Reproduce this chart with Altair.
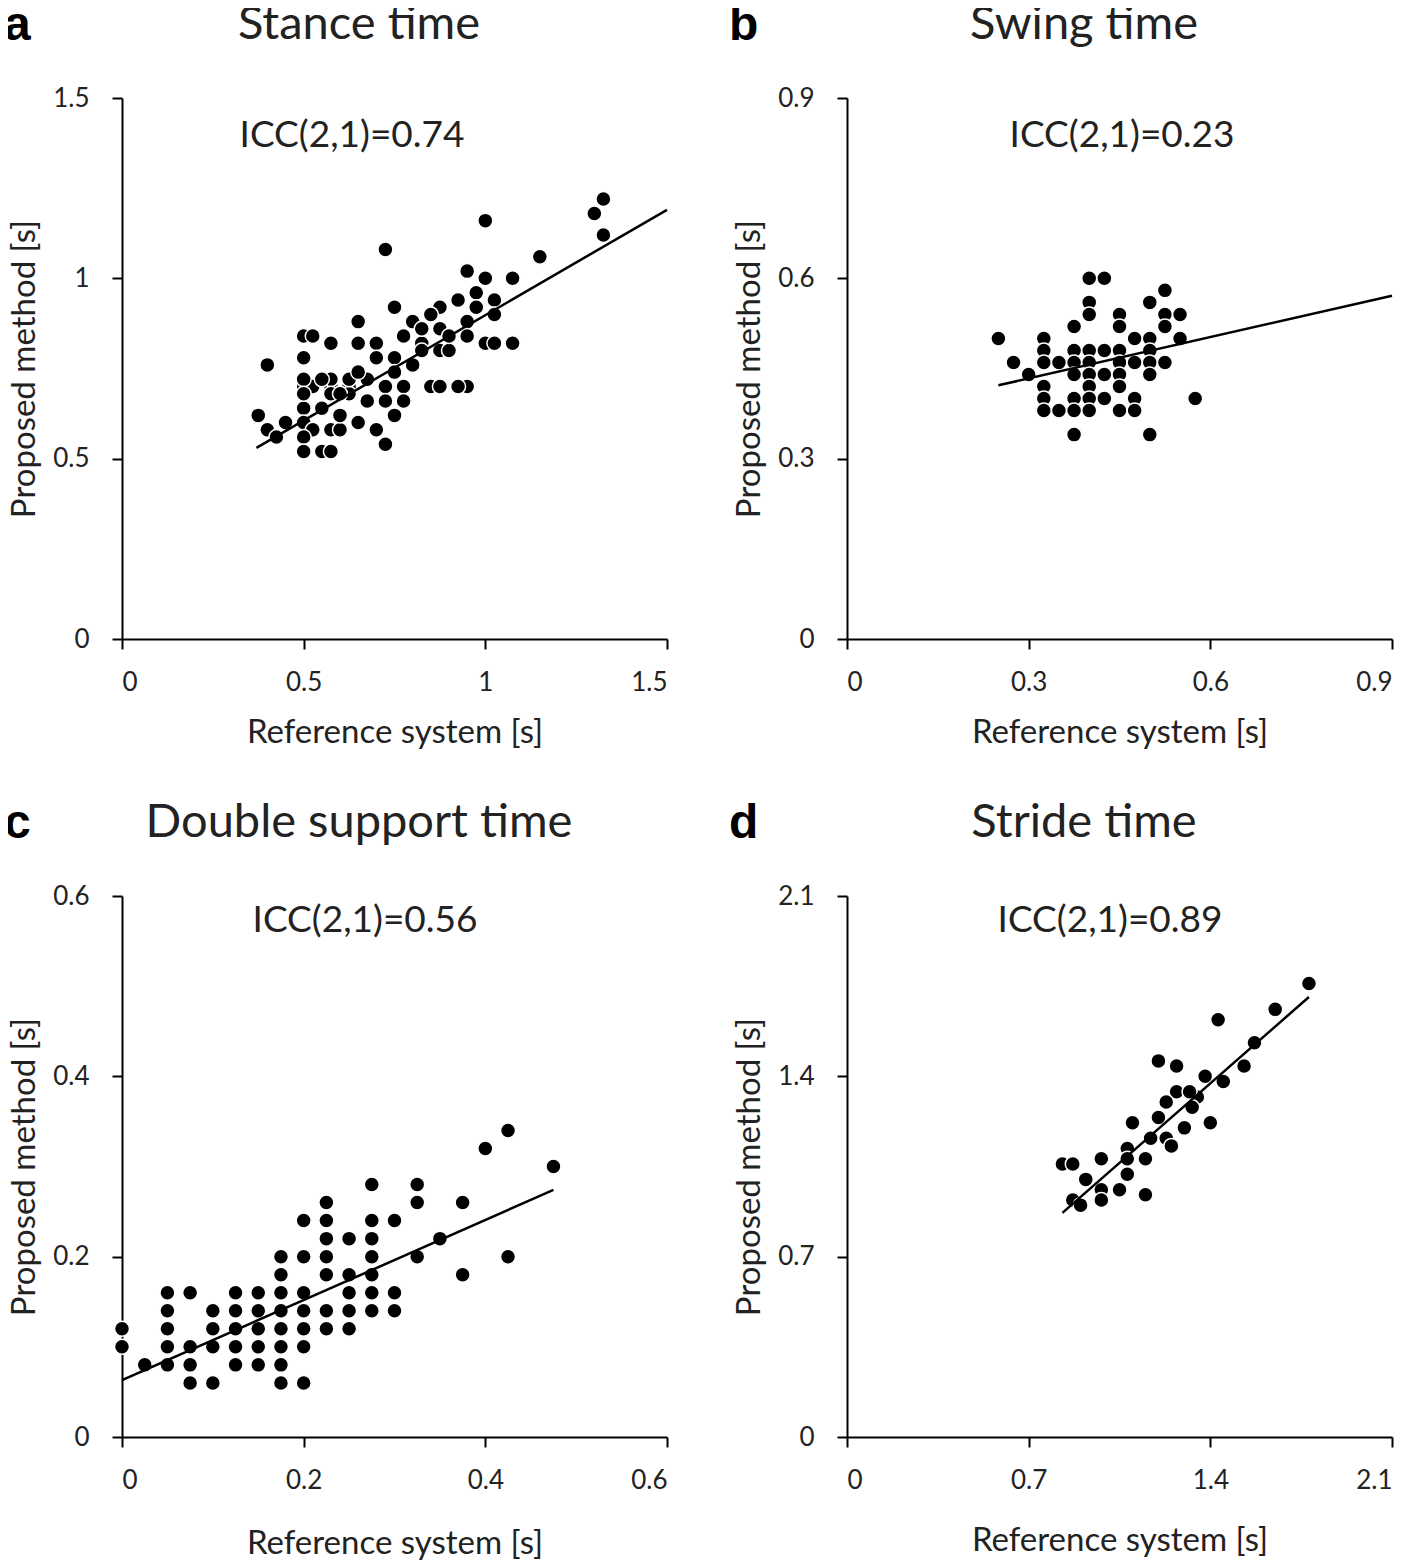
import altair as alt
import pandas as pd

# ---------------- data ----------------
# (a) Stance time
a_ref = [1.325, 1.3, 1.325, 1.0, 0.725, 1.15, 0.95, 1.0, 1.075, 0.975, 1.025, 0.925, 0.75, 0.875,
         0.85, 0.975, 1.025, 0.95, 0.65, 0.875, 0.5, 0.525, 0.575, 0.65, 0.7, 0.775, 0.825, 0.8,
         0.95, 1.0, 1.025, 1.075, 0.7, 0.75, 0.875, 0.9, 0.825, 0.5, 0.4, 0.675, 0.5, 0.525, 0.575,
         0.625, 0.725, 0.775, 0.85, 0.875, 0.95, 0.925, 0.625, 0.675, 0.725, 0.775, 0.5, 0.55, 0.375,
         0.5, 0.525, 0.575, 0.6, 0.65, 0.7, 0.75, 0.4, 0.425, 0.5, 0.725, 0.5, 0.55, 0.575,
         0.5, 0.5, 0.575, 0.575, 0.625, 0.6, 0.65, 0.75, 0.8, 0.825, 0.9, 0.45, 0.55, 0.6]
a_prop = [1.22, 1.18, 1.12, 1.16, 1.08, 1.06, 1.02, 1.0, 1.0, 0.96, 0.94, 0.94, 0.92, 0.92,
          0.90, 0.92, 0.90, 0.88, 0.88, 0.86, 0.84, 0.84, 0.82, 0.82, 0.82, 0.84, 0.82, 0.88,
          0.84, 0.82, 0.82, 0.82, 0.78, 0.78, 0.80, 0.80, 0.80, 0.78, 0.76, 0.72, 0.70, 0.70, 0.70,
          0.70, 0.70, 0.70, 0.70, 0.70, 0.70, 0.70, 0.68, 0.66, 0.66, 0.66, 0.64, 0.64, 0.62,
          0.60, 0.58, 0.58, 0.58, 0.60, 0.58, 0.62, 0.58, 0.56, 0.56, 0.54, 0.52, 0.52, 0.52,
          0.72, 0.68, 0.72, 0.68, 0.72, 0.62, 0.74, 0.74, 0.76, 0.86, 0.84, 0.60, 0.72, 0.68]
a_line_x = [0.37, 1.5]
a_line_y = [0.53, 1.19]

# (b) Swing time
b_ref = [0.4, 0.425, 0.525, 0.4, 0.5, 0.4, 0.45, 0.525, 0.55, 0.375, 0.45, 0.525, 0.25, 0.325,
         0.475, 0.5, 0.55, 0.325, 0.375, 0.4, 0.425, 0.45, 0.5, 0.275, 0.325, 0.35, 0.375, 0.4,
         0.45, 0.475, 0.5, 0.525, 0.3, 0.375, 0.4, 0.425, 0.45, 0.5, 0.325, 0.4, 0.45, 0.325,
         0.375, 0.4, 0.425, 0.475, 0.575, 0.325, 0.35, 0.375, 0.4, 0.45, 0.475, 0.375, 0.5]
b_prop = [0.60, 0.60, 0.58, 0.56, 0.56, 0.54, 0.54, 0.54, 0.54, 0.52, 0.52, 0.52, 0.50, 0.50,
          0.50, 0.50, 0.50, 0.48, 0.48, 0.48, 0.48, 0.48, 0.48, 0.46, 0.46, 0.46, 0.46, 0.46,
          0.46, 0.46, 0.46, 0.46, 0.44, 0.44, 0.44, 0.44, 0.44, 0.44, 0.42, 0.42, 0.42, 0.40,
          0.40, 0.40, 0.40, 0.40, 0.40, 0.38, 0.38, 0.38, 0.38, 0.38, 0.38, 0.34, 0.34]
b_line_x = [0.25, 0.9]
b_line_y = [0.422, 0.571]

# (c) Double support time
c_ref = [0.0, 0.0, 0.025,
         0.05, 0.05, 0.05, 0.05, 0.05,
         0.075, 0.075, 0.075, 0.075,
         0.1, 0.1, 0.1, 0.1,
         0.125, 0.125, 0.125, 0.125, 0.125,
         0.15, 0.15, 0.15, 0.15, 0.15,
         0.175, 0.175, 0.175, 0.175, 0.175, 0.175, 0.175, 0.175,
         0.2, 0.2, 0.2, 0.2, 0.2, 0.2, 0.2,
         0.225, 0.225, 0.225, 0.225, 0.225, 0.225, 0.225,
         0.25, 0.25, 0.25, 0.25, 0.25,
         0.275, 0.275, 0.275, 0.275, 0.275, 0.275, 0.275,
         0.3, 0.3, 0.3,
         0.325, 0.325, 0.325,
         0.35, 0.375, 0.375, 0.4, 0.425, 0.425, 0.475]
c_prop = [0.12, 0.10, 0.08,
          0.16, 0.14, 0.12, 0.10, 0.08,
          0.16, 0.10, 0.08, 0.06,
          0.14, 0.12, 0.10, 0.06,
          0.16, 0.14, 0.12, 0.10, 0.08,
          0.16, 0.14, 0.12, 0.10, 0.08,
          0.20, 0.18, 0.16, 0.14, 0.12, 0.10, 0.08, 0.06,
          0.24, 0.20, 0.16, 0.14, 0.12, 0.10, 0.06,
          0.26, 0.24, 0.22, 0.20, 0.18, 0.14, 0.12,
          0.22, 0.18, 0.16, 0.14, 0.12,
          0.28, 0.24, 0.22, 0.20, 0.18, 0.16, 0.14,
          0.24, 0.16, 0.14,
          0.28, 0.26, 0.20,
          0.22, 0.26, 0.18, 0.32, 0.34, 0.20, 0.30]
c_line_x = [0.0, 0.475]
c_line_y = [0.063, 0.274]

# (d) Stride time
d_ref = [1.78, 1.65, 1.43, 1.57, 1.2, 1.27, 1.53, 1.38, 1.45, 1.35, 1.27, 1.32, 1.23, 1.33,
         1.2, 1.1, 1.3, 1.4, 1.23, 1.25, 1.17, 1.08, 1.15, 0.98, 0.83, 0.87, 1.08, 0.92, 0.98,
         1.05, 1.15, 0.87, 0.98, 0.9, 1.08]
d_prop = [1.76, 1.66, 1.62, 1.53, 1.46, 1.44, 1.44, 1.40, 1.38, 1.32, 1.34, 1.34, 1.30, 1.28,
          1.24, 1.22, 1.20, 1.22, 1.16, 1.13, 1.16, 1.12, 1.08, 1.08, 1.06, 1.06, 1.02, 1.00, 0.96,
          0.96, 0.94, 0.92, 0.92, 0.90, 1.08]
d_line_x = [0.83, 1.78]
d_line_y = [0.87, 1.708]

TEXT = "#222222"
FONT = "Lato"
W, H = 545, 541


def panel(letter, title, ref, prop, lx, ly, ticks, icc, icc_px, icc_py, xtp):
    dmax = ticks[-1]
    scale = alt.Scale(domain=[0, dmax], nice=False, zero=True)
    x = alt.X("ref:Q", scale=scale,
              axis=alt.Axis(values=ticks, format="~g", title="Reference system [s]",
                            titlePadding=xtp))
    y = alt.Y("prop:Q", scale=scale,
              axis=alt.Axis(values=ticks, format="~g", title="Proposed method [s]"))
    pts = alt.Chart(pd.DataFrame({"ref": ref, "prop": prop})).mark_circle(
        size=225, fill="black", stroke="white", strokeWidth=1.5, opacity=1
    ).encode(x=x, y=y)
    line = alt.Chart(pd.DataFrame({"ref": lx, "prop": ly})).mark_line(
        color="black", strokeWidth=2.5
    ).encode(x=x, y=y)
    icc_txt = alt.Chart(pd.DataFrame({"t": [icc]})).mark_text(
        font=FONT, fontSize=37, color=TEXT, align="center", baseline="middle"
    ).encode(text="t:N", x=alt.value(icc_px), y=alt.value(icc_py))
    ttl = alt.Chart(pd.DataFrame({"t": [title]})).mark_text(
        font=FONT, fontSize=47, color=TEXT, align="center", baseline="middle"
    ).encode(text="t:N", x=alt.value(237), y=alt.value(-73))
    let = alt.Chart(pd.DataFrame({"t": [letter]})).mark_text(
        font="Liberation Sans", fontWeight="bold", fontSize=48, color="black",
        align="left", baseline="alphabetic"
    ).encode(text="t:N", x=alt.value(-118), y=alt.value(-58))
    return alt.layer(pts, line, icc_txt, ttl, let).properties(width=W, height=H)


pa = panel("a", "Stance time", a_ref, a_prop, a_line_x, a_line_y,
           [0, 0.5, 1, 1.5], "ICC(2,1)=0.74", 230, 38, 21)
pb = panel("b", "Swing time", b_ref, b_prop, b_line_x, b_line_y,
           [0, 0.3, 0.6, 0.9], "ICC(2,1)=0.23", 275, 38, 21)
pc = panel("c", "Double support time", c_ref, c_prop, c_line_x, c_line_y,
           [0, 0.2, 0.4, 0.6], "ICC(2,1)=0.56", 243, 25, 34)
pd_ = panel("d", "Stride time", d_ref, d_prop, d_line_x, d_line_y,
            [0, 0.7, 1.4, 2.1], "ICC(2,1)=0.89", 263, 25, 31)

chart = alt.concat(pa, pb, pc, pd_, columns=2, spacing={"row": 50, "column": 57}).properties(
    padding={"left": -4, "top": -7, "right": 0, "bottom": 0}
).configure_view(strokeOpacity=0).configure_axis(
    domainColor="black", domainWidth=2, tickColor="black", tickWidth=2, tickSize=10,
    grid=False, labelFont=FONT, labelFontSize=26, labelColor=TEXT,
    titleFont=FONT, titleFontSize=33, titleFontWeight="normal", titleColor=TEXT,
).configure_axisX(labelPadding=20).configure_axisY(labelPadding=23, titlePadding=11)

chart.save("out.html", embed_options={"renderer": "svg", "actions": False})
